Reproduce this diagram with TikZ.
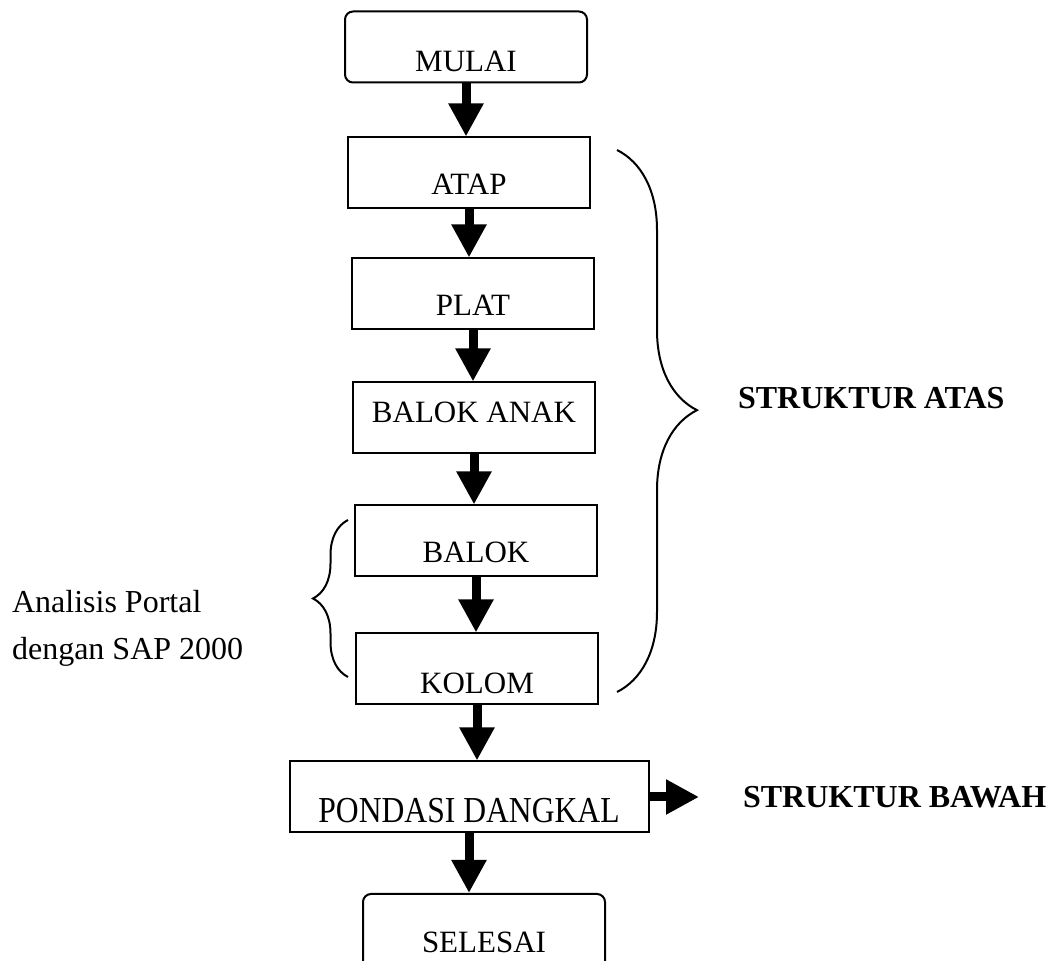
\documentclass[tikz,border=0pt]{standalone}
\usepackage{fontspec}
\setmainfont{Liberation Serif}
\usepackage{tikz}
\usetikzlibrary{arrows.meta,positioning,decorations.pathreplacing}

\begin{document}
\begin{tikzpicture}[x=0.5pt,y=-0.5pt,font=\fontsize{15.5}{18}\selectfont,
        stepbox/.style={draw,line width=1pt,minimum width=121pt,minimum height=35.5pt,inner sep=0pt,
          text height=21.3pt,text depth=0pt},
        terminal/.style={stepbox,rounded corners=4pt},
        low/.style={text height=24.3pt},
        high/.style={text height=10.3pt,text depth=6pt},
        label/.style={anchor=west,font=\fontsize{16}{18}\selectfont\bfseries},
        flow/.style={line width=4.5pt,-{Triangle[length=16.5pt,width=16.5pt]}},
        curly/.style={line width=1pt,decorate}]
      \useasboundingbox (0,0) rectangle (1062,961);
      \node[terminal,low] (mulai) at (466,47) {MULAI};
      \node[stepbox] (atap) at (469,173) {ATAP};
      \node[stepbox] (plat) at (473,294) {PLAT};
      \node[stepbox,high] (anak) at (474,418) {BALOK ANAK};
      \node[stepbox] (balok) at (476,541) {BALOK};
      \node[stepbox,low] (kolom) at (477,669) {KOLOM};
      \node[stepbox,minimum width=179.5pt,text height=26pt] (pondasi) at (469,797)
        {\scalebox{1.02}[1.18]{PONDASI DANGKAL}};
      \node[terminal,minimum height=48pt,text height=10.3pt] (selesai) at (484,942) {SELESAI};
      \node[label] (atas) at (731,398) {STRUKTUR ATAS};
      \node[label] (bawah) at (736,797) {STRUKTUR BAWAH};
      \node[anchor=west,align=left,font=\fontsize{16}{23.5}\selectfont] (analisis) at (5,628)
        {Analisis Portal\\dengan SAP 2000};
      % alur
      \draw[flow] (mulai.south) -- (mulai.south |- atap.north);
      \draw[flow] (atap.south) -- (atap.south |- plat.north);
      \draw[flow] (plat.south) -- (plat.south |- anak.north);
      \draw[flow] (anak.south) -- (anak.south |- balok.north);
      \draw[flow] (balok.south) -- (balok.south |- kolom.north);
      \draw[flow] (kolom.south) -- (kolom.south |- pondasi.north);
      \draw[flow] (pondasi.south) -- (pondasi.south |- selesai.north);
      \draw[flow] (pondasi.east) -- ([xshift=-18.5pt]bawah.west);
      % kurung
      \draw[curly,decoration={brace,amplitude=40pt,aspect=0.48}] (617,150) -- (617,692);
      \draw[curly,decoration={brace,amplitude=17.5pt,aspect=0.5}] (348,677) -- (348,520);
    \end{tikzpicture}
\end{document}
